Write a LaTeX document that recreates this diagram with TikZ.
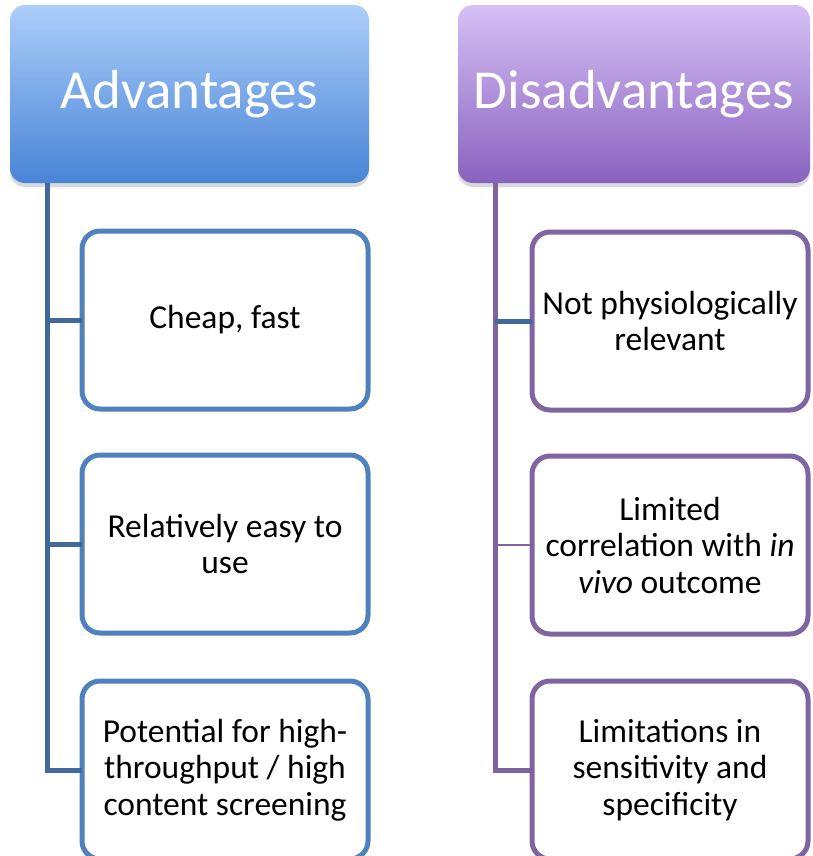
\documentclass[tikz,border=0pt]{standalone}
\usepackage{fontspec}
\setmainfont{Carlito}
\usetikzlibrary{positioning, shadows}

\definecolor{advtop}{RGB}{172,206,250}
\definecolor{advmid}{RGB}{138,180,240}
\definecolor{advbot}{RGB}{72,132,214}
\definecolor{distop}{RGB}{214,192,246}
\definecolor{dismid}{RGB}{186,156,228}
\definecolor{disbot}{RGB}{136,98,190}
\definecolor{advline}{HTML}{4F81BD}
\definecolor{advdark}{HTML}{41699C}
\definecolor{disline}{HTML}{8064A2}

\begin{document}
\begin{tikzpicture}[x=1pt, y=-1pt,
    head/.style={rounded corners=15pt, minimum width=#1, minimum height=178pt,
        outer sep=0pt, text=white, font=\fontsize{55}{60}\selectfont,
        drop shadow={shadow xshift=0pt, shadow yshift=-4pt, opacity=0.3}},
    advhead/.style={head=#1, top color=advtop, middle color=advmid, bottom color=advbot},
    dishead/.style={head=#1, top color=distop, middle color=dismid, bottom color=disbot},
    item/.style={draw, line width=5pt, fill=white, rounded corners=18pt,
        minimum width=#1, minimum height=178pt, outer sep=0pt, align=center,
        font=\fontsize{33.5}{36.5}\selectfont},
    advbox/.style={item=286pt, draw=advline},
    disbox/.style={item=276pt, draw=disline},
    advlink/.style={draw=advdark, line width=5pt},
    dislink/.style={draw=disline, line width=5pt}]

\useasboundingbox (0,0) rectangle (812,856);
\clip (0,0) rectangle (812,856);

\node[advhead=359pt] (adv) at (189.5,94) {Advantages};
\node[dishead=352pt] (dis) at (634,94) {Disadvantages};

\node[advbox, below right=48pt and 72pt of adv.south west] (adv1) {Cheap, fast};
\node[advbox, below=46pt of adv1] (adv2) {Relatively easy to\\use};
\node[advbox, below=48pt of adv2] (adv3) {Potential for high-\\throughput / high\\content screening};

\node[disbox, below right=49pt and 74pt of dis.south west] (dis1) {Not physiologically\\relevant};
\node[disbox, below=46pt of dis1] (dis2) {Limited\\correlation with \textit{in}\\\textit{vivo} outcome};
\node[disbox, below=47pt of dis2] (dis3) {Limitations in\\sensitivity and\\specificity};

\coordinate (advroot) at ([xshift=37pt]adv.south west);
\coordinate (disroot) at ([xshift=37pt]dis.south west);

\draw[advlink] (advroot) |- (adv3.west);
\draw[advlink] (advroot |- adv1.west) -- (adv1.west);
\draw[advlink] (advroot |- adv2.west) -- (adv2.west);

\draw[dislink] (disroot) |- (dis3.west);
\draw[advlink] (disroot |- dis1.west) -- (dis1.west);
\draw[dislink, line width=1.5pt] (disroot |- dis2.west) -- (dis2.west);
\end{tikzpicture}
\end{document}
